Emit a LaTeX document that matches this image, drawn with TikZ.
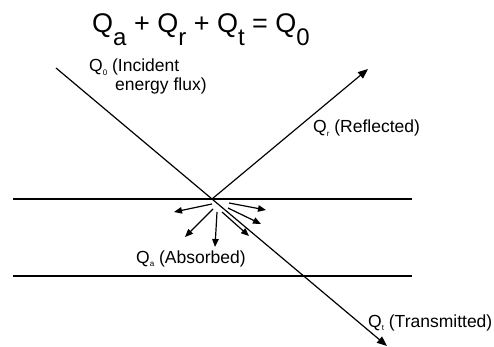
\documentclass[tikz,border=0pt]{standalone}
\usepackage{fontspec}
\setmainfont{Liberation Sans}
\usetikzlibrary{arrows.meta,positioning,calc}
\newcommand{\titlesub}[1]{\raisebox{-0.45em}{\fontsize{24}{24}\selectfont #1}}
\newcommand{\lblsub}[1]{\raisebox{-0.2em}{\fontsize{8}{8}\selectfont #1}}
\tikzset{
  surface/.style={line width=1.6pt, black},
  ray/.style={line width=1.2pt, black},
  rayarrow/.style={ray, -{Triangle[length=10pt, width=8pt]}},
  absorb/.style={line width=1.2pt, black, -{Triangle[length=8pt, width=6.5pt]}},
  lbl/.style={font=\fontsize{17.5}{19}\selectfont, inner sep=0pt, anchor=base west, align=left},
  eqn/.style={font=\fontsize{27}{29}\selectfont, inner sep=0pt, anchor=base}
}
\begin{document}
\begin{tikzpicture}[x=1pt, y=-1pt]
  \useasboundingbox (0,0) rectangle (494,347);
  % surfaces
  \coordinate (s1l) at (13,199);
  \coordinate (s1r) at (412,199);
  \coordinate (s2l) at (13,276);
  \coordinate (s2r) at (412,276);
  \draw[surface] (s1l) -- (s1r);
  \draw[surface] (s2l) -- (s2r);
  % rays
  \coordinate (src) at (56,68);
  \coordinate (hit) at (212,199);
  \coordinate (refl) at (368,69);
  \coordinate (trans) at (387,346);
  \draw[ray] (src) -- (hit);
  \draw[rayarrow] (hit) -- (refl);
  \draw[rayarrow] (hit) -- (trans);
  % absorbed
  \foreach \sx/\sy/\ex/\ey in {212/204/174/212, 213/209/185/237, 217/212/215/247,
                               222/212/249/236, 228/208/261/224, 229/203/266/210}
    \draw[absorb] (\sx,\sy) -- (\ex,\ey);
  % labels
  \node[eqn] (balance) at (201,33) {Q\titlesub{a} + Q\titlesub{r} + Q\titlesub{t} = Q\titlesub{0}};
  \node[lbl] (incident) at (89,91) {Q\lblsub{0} (Incident\\\hspace*{26pt}energy flux)};
  \node[lbl] (reflected) at (313,133) {Q\lblsub{r} (Reflected)};
  \node[lbl] (absorbed) at (136,263) {Q\lblsub{a} (Absorbed)};
  \node[lbl] (transmitted) at (368,327) {Q\lblsub{t} (Transmitted)};
\end{tikzpicture}
\end{document}
